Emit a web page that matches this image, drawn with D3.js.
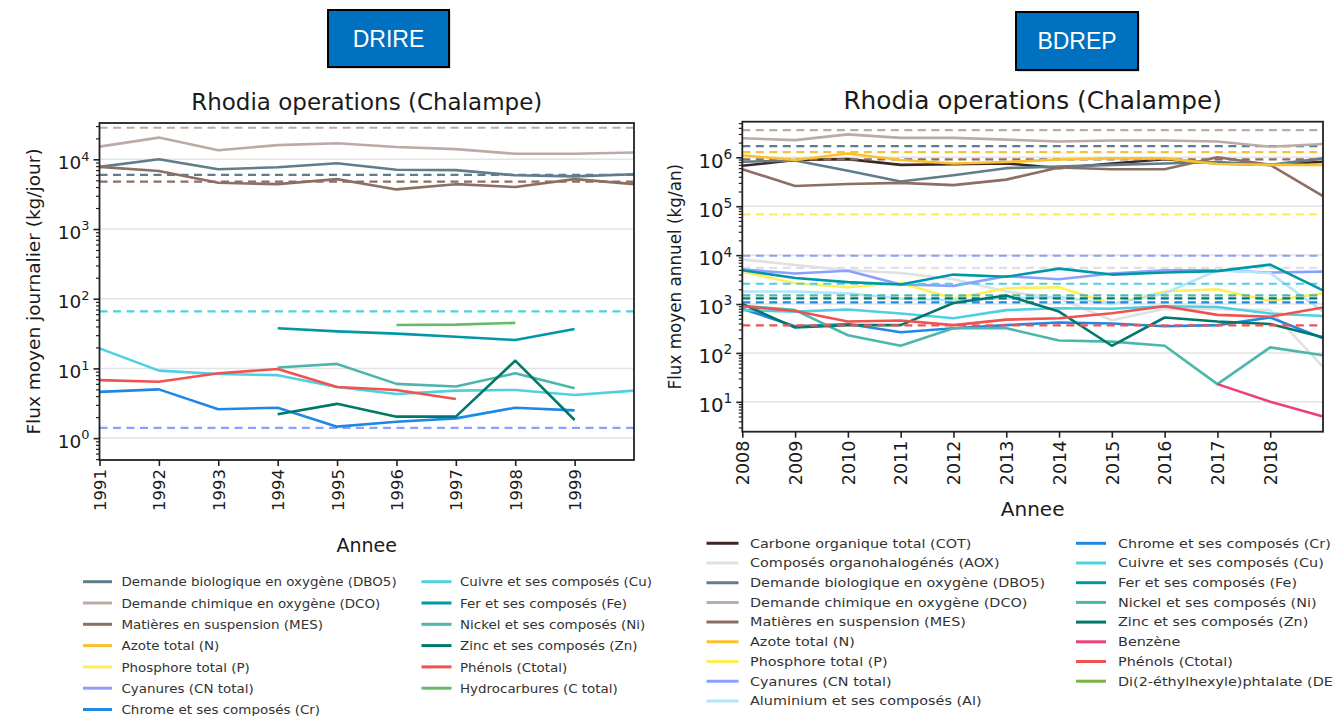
<!DOCTYPE html>
<html>
<head>
<meta charset="utf-8">
<script src="https://cdn.jsdelivr.net/npm/d3@7"></script>
<style>
  body { margin: 0; background: #fff; }
  text { font-family: "DejaVu Sans", sans-serif; fill: #1a1a1a; }
</style>
</head>
<body>
<div id="chart"></div>
<script>
// ---- DRIRE data (kg/jour) ----
var drireYears = [1991, 1992, 1993, 1994, 1995, 1996, 1997, 1998, 1999, 2000];
var drireTicks = [1991, 1992, 1993, 1994, 1995, 1996, 1997, 1998, 1999];
var drireDBO5 = [7800, 10000, 7200, 7700, 8800, 7100, 7000, 5900, 5700, 6100];
var drireDCO = [15200, 20500, 13500, 16000, 17000, 15000, 14000, 12000, 12000, 12500];
var drireMES = [7800, 6800, 4600, 4400, 5200, 3700, 4400, 4000, 5200, 4400];
var drireCu = [19.4, 9.3, 8.3, 8.0, 5.4, 4.3, 4.8, 4.9, 4.15, 4.8];
var drireFe = [null, null, null, 37.6, 34, 31.6, 28.5, 25.5, 36.7, null];
var drireNi = [null, null, null, 10.3, 11.6, 6.0, 5.5, 8.5, 5.2, null];
var drireZn = [null, null, null, 2.2, 3.1, 2.03, 2.03, 12.9, 1.82, null];
var drirePhenols = [6.8, 6.45, 8.5, 9.8, 5.4, 4.9, 3.64, null, null, null];
var drireCr = [4.6, 5.0, 2.6, 2.73, 1.46, 1.72, 1.92, 2.73, 2.5, null];
var drireHC = [null, null, null, null, null, 42, 42.5, 45, null, null];
// seuils (dashed)
var drireSeuils = { DBO5: 6000, DCO: 28400, MES: 4800, Cu: 66, CN: 1.4 };

// ---- BDREP data (kg/an) ----
var bdrepYears = [2008, 2009, 2010, 2011, 2012, 2013, 2014, 2015, 2016, 2017, 2018, 2019];
var bdrepTicks = [2008, 2009, 2010, 2011, 2012, 2013, 2014, 2015, 2016, 2017, 2018];
var bdrepCOT = [670000, 880000, 920000, 700000, 720000, 750000, 600000, 750000, 910000, 750000, 700000, 810000];
var bdrepAOX = [8200, 6300, 4900, 4300, 3200, 1800, 1300, 465, 800, 780, 750, 52];
var bdrepDBO5 = [810000, 860000, 530000, 320000, 430000, 600000, 650000, 700000, 750000, 800000, 700000, 950000];
var bdrepDCO = [2450000, 2250000, 2950000, 2500000, 2500000, 2300000, 2100000, 2200000, 2200000, 2100000, 1650000, 1870000];
var bdrepMES = [570000, 260000, 285000, 300000, 270000, 350000, 620000, 570000, 570000, 1000000, 700000, 160000];
var bdrepN = [1100000, 880000, 1200000, 880000, 750000, 800000, 900000, 950000, 950000, 730000, 700000, 700000];
var bdrepP = [4600, 2650, 2200, 2700, 1300, 2100, 2200, 1000, 1800, 2000, 1150, 1650];
var bdrepCN = [5100, 4200, 4800, 2500, 2350, 3700, 3200, 4200, 4900, 4900, 4400, 4600];
var bdrepAl = [1800, 1800, 1650, 1300, 1200, 1300, 1400, 1000, 1650, 4900, 4300, 700];
var bdrepCr = [800, 350, 390, 265, 320, 370, 420, 400, 350, 370, 530, 200];
var bdrepCu = [750, 700, 770, 640, 510, 750, 820, 800, 900, 870, 640, 570];
var bdrepFe = [4900, 3400, 2800, 2500, 4000, 3600, 5300, 4000, 4400, 4700, 6400, 1900];
var bdrepNi = [920, 750, 230, 140, 320, 320, 180, 170, 140, 23, 130, 90];
var bdrepZn = [1000, 330, 370, 370, 1050, 1500, 700, 140, 530, 440, 390, 210];
var bdrepBenzene = [null, null, null, null, null, null, null, null, null, 23, 10, 5];
var bdrepPhenols = [900, 720, 440, 460, 370, 480, 510, 650, 900, 600, 550, 850];
var bdrepDEHP = [];
var bdrepSeuils = { DCO: 3600000, DBO5: 1700000, N: 1280000, MES: 910000, P: 68000, CN: 9700,
  AOX: 5500, Cu: 2600, Ni: 1500, Zn: 1300, Cr: 1080, Phenols: 367 };

// colours per substance
var colors = {
  COT: "#3e2723", AOX: "#e0e0e0", DBO5: "#607d8b", DCO: "#bcaaa4", MES: "#8d6e63",
  N: "#fbc02d", P: "#ffee58", CN: "#8c9eff", Al: "#b3e5fc", Cr: "#1e88e5",
  Cu: "#4dd0e1", Fe: "#0097a7", Ni: "#4db6ac", Zn: "#00796b", Benzene: "#ec407a",
  Phenols: "#ef5350", HC: "#66bb6a", DEHP: "#7cb342"
};

var labels = {
  COT: "Carbone organique total (COT)",
  AOX: "Composés organohalogénés (AOX)",
  DBO5: "Demande biologique en oxygène (DBO5)",
  DCO: "Demande chimique en oxygène (DCO)",
  MES: "Matières en suspension (MES)",
  N: "Azote total (N)",
  P: "Phosphore total (P)",
  CN: "Cyanures (CN total)",
  Al: "Aluminium et ses composés (Al)",
  Cr: "Chrome et ses composés (Cr)",
  Cu: "Cuivre et ses composés (Cu)",
  Fe: "Fer et ses composés (Fe)",
  Ni: "Nickel et ses composés (Ni)",
  Zn: "Zinc et ses composés (Zn)",
  Benzene: "Benzène",
  Phenols: "Phénols (Ctotal)",
  HC: "Hydrocarbures (C total)",
  DEHP: "Di(2-éthylhexyle)phtalate (DEHP)"
};

var svgWidth = 1334;
var svgHeight = 716;

var svg = d3.select("#chart")
  .append("svg")
  .attr("width", svgWidth)
  .attr("height", svgHeight);

// header boxes
function drawBox(x, y, w, h, label) {
  svg.append("rect")
    .attr("x", x + 1.5).attr("y", y + 1.5)
    .attr("width", w).attr("height", h)
    .attr("fill", "#bfbfbf");
  svg.append("rect")
    .attr("x", x).attr("y", y)
    .attr("width", w).attr("height", h)
    .attr("fill", "#0070c0")
    .attr("stroke", "#000")
    .attr("stroke-width", 2);
  svg.append("text")
    .attr("x", x + w / 2).attr("y", y + h / 2 + 8)
    .attr("text-anchor", "middle")
    .style("font-family", "'Liberation Sans', Arial, sans-serif")
    .style("font-size", "23px")
    .style("fill", "#fff")
    .text(label);
}
drawBox(328, 10, 121, 57, "DRIRE");
drawBox(1016, 12, 122, 58, "BDREP");

function supTick(sel) {
  sel.selectAll(".tick text").each(function(d) {
    var t = d3.select(this);
    t.text("");
    t.append("tspan").text("10");
    t.append("tspan")
      .attr("dy", "-0.65em")
      .style("font-size", "0.7em")
      .text(Math.round(Math.log10(d)));
  });
}

function drawPanel(p) {
  var g = svg.append("g");
  var x = d3.scaleLinear().domain(p.xDomain).range([p.left, p.right]);
  var y = d3.scaleLog().domain(p.yDomain).range([p.bottom, p.top]);

  // grid
  g.selectAll(".grid")
    .data(p.yTicks)
    .enter()
    .append("line")
    .attr("x1", p.left).attr("x2", p.right)
    .attr("y1", d => y(d)).attr("y2", d => y(d))
    .attr("stroke", "#e3e3e3")
    .attr("stroke-width", 1.5);

  var line = d3.line()
    .defined(d => d[1] != null)
    .x(d => x(d[0]))
    .y(d => y(d[1]));

  // series and thresholds
  p.series.forEach(function(s) {
    if (s.values.length) {
      g.append("path")
        .datum(p.years.map((yr, i) => [yr, s.values[i]]))
        .attr("fill", "none")
        .attr("stroke", colors[s.key])
        .attr("stroke-width", 2.6)
        .attr("stroke-linejoin", "round")
        .attr("d", line);
    }
    if (p.seuils[s.key] != null) {
      g.append("line")
        .attr("x1", p.left).attr("x2", p.right)
        .attr("y1", y(p.seuils[s.key])).attr("y2", y(p.seuils[s.key]))
        .attr("stroke", colors[s.key])
        .attr("stroke-width", 2.2)
        .attr("stroke-dasharray", "8,5.5");
    }
  });

  // frame
  g.append("rect")
    .attr("x", p.left).attr("y", p.top)
    .attr("width", p.right - p.left).attr("height", p.bottom - p.top)
    .attr("fill", "none")
    .attr("stroke", "#222")
    .attr("stroke-width", 1.8);

  // minor ticks
  var minor = [];
  var lo = Math.floor(Math.log10(p.yDomain[0])), hi = Math.ceil(Math.log10(p.yDomain[1]));
  for (var e = lo; e <= hi; e++) {
    for (var m = 2; m < 10; m++) {
      var v = m * Math.pow(10, e);
      if (v >= p.yDomain[0] && v <= p.yDomain[1]) minor.push(v);
    }
  }
  g.append("g")
    .attr("transform", `translate(${p.left},0)`)
    .call(d3.axisLeft(y).tickValues(minor).tickSize(3.5).tickFormat(""))
    .call(a => a.select(".domain").remove())
    .selectAll("line").attr("stroke", "#222").attr("stroke-width", 1.2);

  // y axis
  var yAxis = g.append("g")
    .attr("transform", `translate(${p.left},0)`)
    .call(d3.axisLeft(y).tickValues(p.yTicks).tickSize(6).tickPadding(4));
  yAxis.select(".domain").remove();
  yAxis.selectAll("line").attr("stroke", "#222").attr("stroke-width", 1.6);
  yAxis.selectAll("text").style("font-size", p.yFont + "px").style("font-family", "DejaVu Sans").attr("dy", "0.5em");
  supTick(yAxis);

  // x axis
  var xAxis = g.append("g")
    .attr("transform", `translate(0,${p.bottom})`)
    .call(d3.axisBottom(x).tickValues(p.ticks).tickFormat(d3.format("d")).tickSize(6));
  xAxis.select(".domain").remove();
  xAxis.selectAll("line").attr("stroke", "#222").attr("stroke-width", 1.6);
  xAxis.selectAll("text")
    .style("font-size", p.xFont + "px")
    .style("font-family", "DejaVu Sans")
    .attr("transform", "rotate(-90)")
    .attr("text-anchor", "end")
    .attr("x", -9)
    .attr("y", 0)
    .attr("dy", "0.36em");

  // titles
  var cx = (p.left + p.right) / 2;
  g.append("text")
    .attr("x", cx).attr("y", p.top - 13)
    .attr("text-anchor", "middle")
    .style("font-size", p.titleFont + "px")
    .text("Rhodia operations (Chalampe)");
  g.append("text")
    .attr("x", cx).attr("y", p.xLabelY)
    .attr("text-anchor", "middle")
    .style("font-size", p.labelFont + "px")
    .text("Annee");
  g.append("text")
    .attr("transform", `translate(${p.yLabelX},${(p.top + p.bottom) / 2}) rotate(-90)`)
    .attr("text-anchor", "middle")
    .style("font-size", p.yLabelFont + "px")
    .text(p.yLabel);

  // legend (text slightly stretched horizontally, as in the picture)
  var leg = g.append("g");
  p.legend.forEach(function(col) {
    col.keys.forEach(function(k, i) {
      var ly = col.y + i * col.step;
      leg.append("line")
        .attr("x1", col.x).attr("x2", col.x + col.sw)
        .attr("y1", ly).attr("y2", ly)
        .attr("stroke", colors[k])
        .attr("stroke-width", 3);
      leg.append("text")
        .attr("transform", `translate(${col.tx},${ly}) scale(${p.legendScale},1)`)
        .attr("dy", "0.36em")
        .style("font-size", p.legendFont + "px")
        .style("fill", "#333")
        .text(labels[k]);
    });
  });
}

drawPanel({
  left: 99.5, right: 634, top: 123, bottom: 460,
  xDomain: [1991, 2000], yDomain: [0.485, 33200],
  yTicks: [1, 10, 100, 1000, 10000],
  years: drireYears, ticks: drireTicks, xFont: 16.5, yFont: 18.5,
  titleFont: 23, labelFont: 19, yLabelFont: 18.5,
  xLabelY: 552, yLabelX: 40,
  yLabel: "Flux moyen journalier (kg/jour)",
  seuils: drireSeuils,
  legendFont: 12.8, legendScale: 1.05,
  series: [
    { key: "DBO5", values: drireDBO5 },
    { key: "DCO", values: drireDCO },
    { key: "MES", values: drireMES },
    { key: "CN", values: [] },
    { key: "Cr", values: drireCr },
    { key: "Cu", values: drireCu },
    { key: "Fe", values: drireFe },
    { key: "Ni", values: drireNi },
    { key: "Zn", values: drireZn },
    { key: "Phenols", values: drirePhenols },
    { key: "HC", values: drireHC }
  ],
  legend: [
    { x: 83, sw: 29, tx: 121.5, y: 581.7, step: 21.3, keys: ["DBO5", "DCO", "MES", "N", "P", "CN", "Cr"] },
    { x: 421.5, sw: 30, tx: 460, y: 581.7, step: 21.3, keys: ["Cu", "Fe", "Ni", "Zn", "Phenols", "HC"] }
  ]
});

drawPanel({
  left: 742.3, right: 1323, top: 121.7, bottom: 431.7,
  xDomain: [2008, 2019], yDomain: [2.45, 5350000],
  yTicks: [10, 100, 1000, 10000, 100000, 1000000],
  years: bdrepYears, ticks: bdrepTicks, xFont: 17.5, yFont: 19.7,
  titleFont: 24.8, labelFont: 20, yLabelFont: 16.8,
  xLabelY: 516, yLabelX: 681,
  yLabel: "Flux moyen annuel (kg/an)",
  seuils: bdrepSeuils,
  legendFont: 12, legendScale: 1.2,
  series: [
    { key: "COT", values: bdrepCOT },
    { key: "AOX", values: bdrepAOX },
    { key: "DBO5", values: bdrepDBO5 },
    { key: "DCO", values: bdrepDCO },
    { key: "MES", values: bdrepMES },
    { key: "N", values: bdrepN },
    { key: "P", values: bdrepP },
    { key: "CN", values: bdrepCN },
    { key: "Al", values: bdrepAl },
    { key: "Cr", values: bdrepCr },
    { key: "Cu", values: bdrepCu },
    { key: "Fe", values: bdrepFe },
    { key: "Ni", values: bdrepNi },
    { key: "Zn", values: bdrepZn },
    { key: "Benzene", values: bdrepBenzene },
    { key: "Phenols", values: bdrepPhenols },
    { key: "DEHP", values: bdrepDEHP }
  ],
  legend: [
    { x: 706.5, sw: 32, tx: 750, y: 543.3, step: 19.7, keys: ["COT", "AOX", "DBO5", "DCO", "MES", "N", "P", "CN", "Al"] },
    { x: 1076, sw: 30, tx: 1118, y: 543.3, step: 19.7, keys: ["Cr", "Cu", "Fe", "Ni", "Zn", "Benzene", "Phenols", "DEHP"] }
  ]
});
</script>
</body>
</html>
